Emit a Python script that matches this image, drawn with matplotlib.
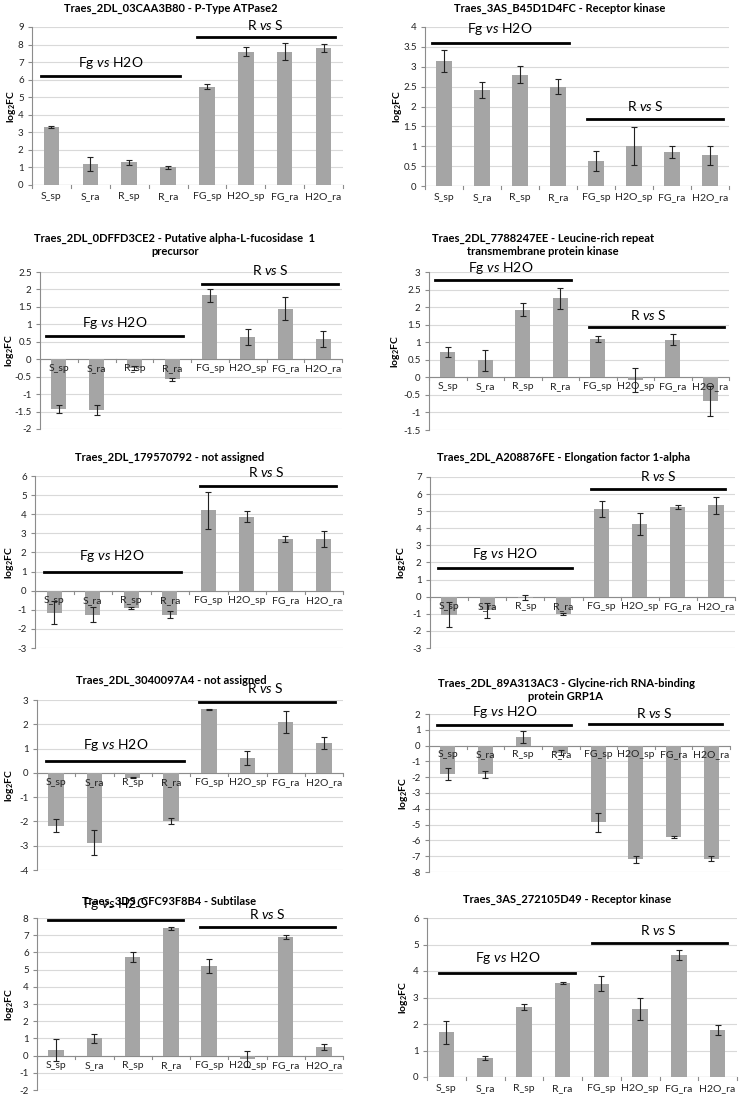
import numpy as np
import matplotlib
matplotlib.use("Agg")
from matplotlib import pyplot as plt

plt.rcParams['font.family'] = ['Lato', 'DejaVu Sans']
plt.rcParams['mathtext.fontset'] = 'custom'
plt.rcParams['mathtext.rm'] = 'Lato'
plt.rcParams['mathtext.it'] = 'Lato:italic'
plt.rcParams['mathtext.bf'] = 'Lato:bold'

cats = ['S_sp', 'S_ra', 'R_sp', 'R_ra', 'FG_sp', 'H2O_sp', 'FG_ra', 'H2O_ra']

titles = [
    'Traes_2DL_03CAA3B80 - P-Type ATPase2',
    'Traes_3AS_B45D1D4FC - Receptor kinase',
    'Traes_2DL_0DFFD3CE2 - Putative alpha-L-fucosidase  1\nprecursor',
    'Traes_2DL_7788247EE - Leucine-rich repeat\ntransmembrane protein kinase',
    'Traes_2DL_179570792 - not assigned',
    'Traes_2DL_A208876FE - Elongation factor 1-alpha',
    'Traes_2DL_3040097A4 - not assigned',
    'Traes_2DL_89A313AC3 - Glycine-rich RNA-binding\nprotein GRP1A',
    'Traes_3DS_CFC93F8B4 - Subtilase',
    'Traes_3AS_272105D49 - Receptor kinase',
]

vals = [
    [3.3, 1.2, 1.3, 1.0, 5.6, 7.6, 7.6, 7.8],
    [3.15, 2.42, 2.8, 2.5, 0.62, 1.0, 0.85, 0.77],
    [-1.42, -1.45, -0.25, -0.58, 1.83, 0.65, 1.45, 0.57],
    [0.72, 0.48, 1.93, 2.25, 1.1, -0.07, 1.07, -0.68],
    [-1.15, -1.25, -0.9, -1.25, 4.2, 3.88, 2.72, 2.72],
    [-1.05, -0.8, -0.07, -1.0, 5.12, 4.25, 5.22, 5.35],
    [-2.17, -2.88, -0.2, -1.98, 2.62, 0.62, 2.1, 1.22],
    [-1.82, -1.8, 0.52, -0.45, -4.85, -7.2, -5.78, -7.15],
    [0.32, 1.0, 5.72, 7.4, 5.2, -0.2, 6.88, 0.5],
    [1.68, 0.72, 2.65, 3.55, 3.52, 2.57, 4.6, 1.78],
]

errs = [
    [0.05, 0.4, 0.15, 0.07, 0.15, 0.25, 0.5, 0.25],
    [0.28, 0.2, 0.22, 0.18, 0.25, 0.48, 0.15, 0.23],
    [0.12, 0.15, 0.05, 0.03, 0.18, 0.23, 0.33, 0.23],
    [0.14, 0.29, 0.19, 0.29, 0.08, 0.35, 0.15, 0.43],
    [0.6, 0.4, 0.05, 0.2, 0.97, 0.28, 0.15, 0.42],
    [0.75, 0.45, 0.15, 0.05, 0.45, 0.65, 0.12, 0.5],
    [0.27, 0.52, 0.03, 0.12, 0.03, 0.3, 0.45, 0.25],
    [0.38, 0.22, 0.38, 0.15, 0.6, 0.2, 0.07, 0.15],
    [0.63, 0.27, 0.28, 0.1, 0.42, 0.45, 0.12, 0.17],
    [0.43, 0.08, 0.12, 0.05, 0.28, 0.42, 0.18, 0.2],
]

# y-axis ranges (min, max, step)
yranges = [(0, 9, 1), (0, 4, 0.5), (-2, 2.5, 0.5), (-1.5, 3, 0.5), (-3, 6, 1),
           (-3, 7, 1), (-4, 3, 1), (-8, 2, 1), (-2, 8, 1), (0, 6, 1)]

# group bars: (line y, x0, x1, text x, text y)
fg_lines = [(6.2, -0.26, 3.3, 1.52, 6.5), (3.6, -0.31, 3.28, 1.47, 3.75),
            (0.67, -0.33, 3.29, 1.47, 0.82), (2.76, -0.33, 3.29, 1.42, 2.9),
            (1.0, -0.26, 3.3, 1.48, 1.4), (1.7, -0.3, 3.23, 1.46, 2.05),
            (0.49, -0.26, 3.35, 1.55, 0.8), (1.33, -0.29, 3.27, 1.5, 1.6),
            (7.9, -0.22, 3.33, 1.55, 8.35), (3.92, -0.19, 3.31, 1.58, 4.2)]
rs_lines = [(8.45, 3.74, 7.3, 5.5, 8.7), (1.68, 3.76, 7.35, 5.3, 1.83),
            (2.17, 3.78, 7.4, 5.6, 2.35), (1.42, 3.77, 7.37, 5.35, 1.58),
            (5.5, 3.78, 7.33, 5.52, 5.85), (6.28, 3.71, 7.25, 5.5, 6.65),
            (2.93, 3.74, 7.3, 5.48, 3.22), (1.37, 3.74, 7.3, 5.5, 1.6),
            (7.46, 3.76, 7.3, 5.52, 7.85), (5.05, 3.76, 7.25, 5.47, 5.3)]

# axes boxes in pixels: left, right, top, bottom
boxes = [(32, 343, 27, 185), (425, 729, 27, 186),
         (40, 342, 272, 429), (429, 729, 272, 430),
         (35, 343, 476, 648), (430, 735, 477, 648),
         (37, 343, 700, 870), (429, 730, 714, 872),
         (37, 343, 918, 1090), (427, 737, 918, 1077)]
# title centre (x, y) and y-label centre x, in pixels
title_pos = [(171, 8), (560, 8), (175, 245), (543, 245), (170, 457),
             (564, 457), (171, 680), (566, 690), (169, 901), (567, 899)]
ylab_x = [11, 397, 9, 395, 9, 402, 9, 404, 10, 404]

W, H = 743, 1098
fig = plt.figure(figsize=(W / 100, H / 100), dpi=100)

for i in range(10):
    l, r, t, b = boxes[i]
    ax = fig.add_axes([l / W, 1 - b / H, (r - l) / W, (b - t) / H])
    x = np.arange(len(cats))
    ymin, ymax, step = yranges[i]
    span = ymax - ymin
    ax.set_axisbelow(True)
    ax.bar(x, vals[i], width=0.4, color='#a5a5a5', zorder=2)
    ax.errorbar(x, vals[i], yerr=errs[i], fmt='none', ecolor='#222222',
                elinewidth=0.8, capsize=2, capthick=0.8, zorder=3)
    ax.set_xlim(-0.5, 7.5)
    ax.set_ylim(ymin, ymax)
    yt = np.arange(ymin, ymax + step / 2, step)
    ax.set_yticks(yt)
    ax.set_yticklabels(['%g' % v for v in yt], fontsize=7, color='#222222')
    ax.yaxis.grid(True, color='#d9d9d9', linewidth=0.8)
    for s in ['top', 'right', 'bottom']:
        ax.spines[s].set_visible(False)
    ax.spines['left'].set_color('#8c8c8c')
    ax.axhline(0, color='#8c8c8c', linewidth=0.8, zorder=1)
    ax.tick_params(axis='y', length=3, color='#8c8c8c', pad=3)
    ax.set_xticks([])
    for k in range(9):
        ax.plot([k - 0.5, k - 0.5], [0, -0.02 * span],
                color='#8c8c8c', linewidth=0.8, zorder=1, clip_on=False)
    off = 0.03 if ymin < 0 else 0.045
    for k, c in enumerate(cats):
        ax.text(k, -off * span, c, ha='center', va='top',
                fontsize=7.5, color='#222222', zorder=4)
    tx, ty = title_pos[i]
    fig.text(tx / W, 1 - ty / H, titles[i], ha='center', va='center',
             fontsize=8, fontweight='bold', linespacing=1.25)
    fig.text(ylab_x[i] / W, 1 - (t + b) / 2 / H, r'log$_\mathbf{2}$FC',
             rotation=90, ha='center', va='center', fontsize=7.5, fontweight='bold')
    ly, x0, x1, tx, ty = fg_lines[i]
    ax.plot([x0, x1], [ly, ly], color='black', linewidth=2, clip_on=False, zorder=5)
    ax.text(tx, ty, r'Fg $\mathit{vs}$ H2O', ha='center', va='bottom', fontsize=10)
    ly, x0, x1, tx, ty = rs_lines[i]
    ax.plot([x0, x1], [ly, ly], color='black', linewidth=2, clip_on=False, zorder=5)
    ax.text(tx, ty, r'R $\mathit{vs}$ S', ha='center', va='bottom', fontsize=10)

fig.savefig('out.png', dpi=100)
